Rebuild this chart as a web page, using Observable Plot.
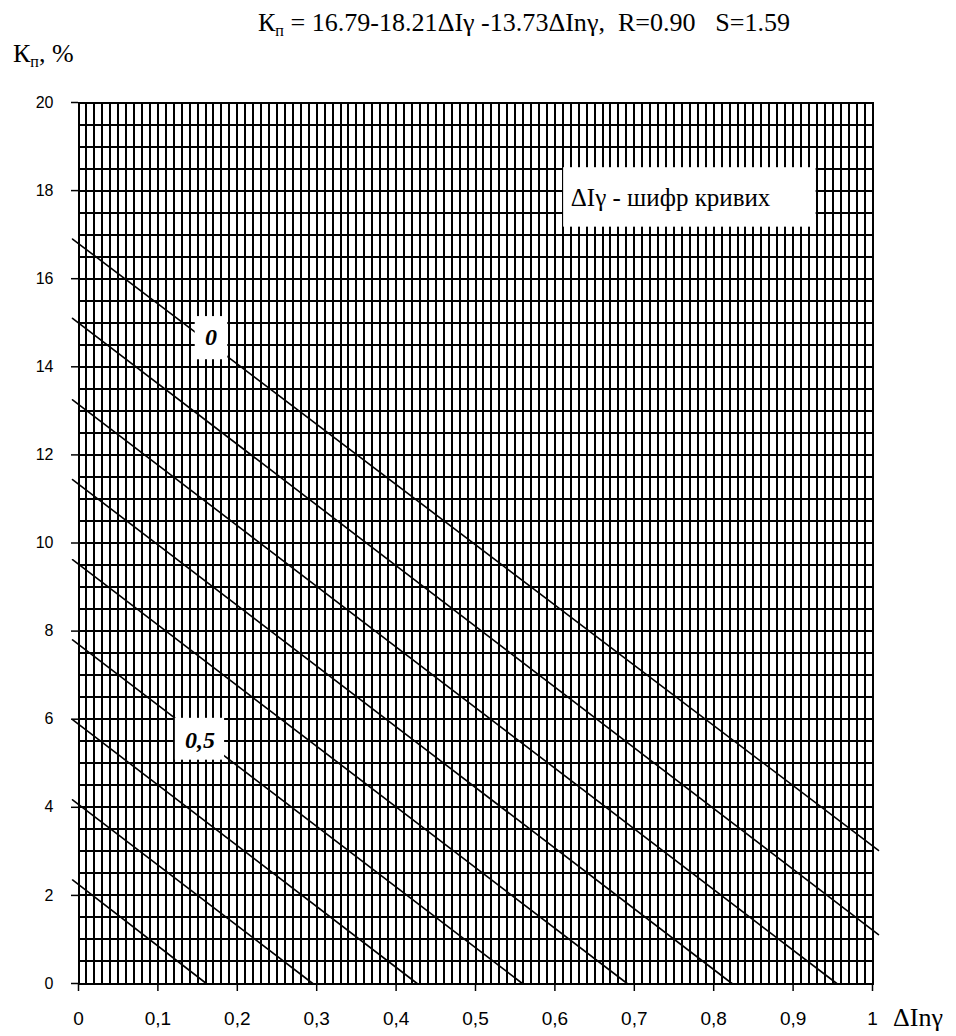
<!DOCTYPE html>
<html><head><meta charset="utf-8">
<script src="https://cdn.jsdelivr.net/npm/d3@7"></script>
<script src="https://cdn.jsdelivr.net/npm/@observablehq/plot@0.6"></script>
<style>
body{margin:0;background:#fff}
#wrap{position:relative;width:956px;height:1036px;overflow:hidden}
#wrap svg{position:absolute;left:0;top:0}
</style></head><body><div id="wrap"></div>
<script>
// Curve codes (ΔIγ) and the read end points of each straight line
const curveCodes = ["0","0,1","0,2","0,3","0,4","0,5","0,6","0,7","0,8"];
const lineStartX = [-0.0075,-0.0075,-0.0075,-0.0075,-0.0075,-0.0075,-0.0075,-0.0075,-0.0075];
const lineStartK = [16.9,15.1,13.25,11.44,9.62,7.8,5.99,4.17,2.35];
const lineEndX   = [1.0075,1.0075,0.955,0.823,0.691,0.559,0.4265,0.295,0.161];
const lineEndK   = [3.02,1.11,0,0,0,0,0,0,0];

// Axis ticks
const xTicks = [0,0.1,0.2,0.3,0.4,0.5,0.6,0.7,0.8,0.9,1];
const xTickLabels = ["0","0,1","0,2","0,3","0,4","0,5","0,6","0,7","0,8","0,9","1"];
const yTicks = [0,2,4,6,8,10,12,14,16,18,20];

// Curve labels (with white boxes)
const labelText = ["0","0,5"];
const labelX = [0.167,0.153];
const labelK = [14.66,5.52];
const labelBoxX1 = [0.147,0.122];
const labelBoxX2 = [0.188,0.184];
const labelBoxK1 = [14.16,5.07];
const labelBoxK2 = [15.14,6.02];

// Legend note
const legendText = "ΔIγ - шифр кривих";
const legendBox = {x1:0.611, x2:0.929, y1:17.17, y2:18.52};
const legendPos = {x:0.62, y:17.84};

const gridX = d3.range(0,101).map(i => i/100);
const gridY = d3.range(0,41).map(i => i/2);

const rows = [];
curveCodes.forEach((c,i) => {
  rows.push({code:c, x:lineStartX[i], k:lineStartK[i]});
  rows.push({code:c, x:lineEndX[i], k:lineEndK[i]});
});
const labels = labelText.map((t,i) => ({t, x:labelX[i], k:labelK[i],
  x1:labelBoxX1[i], x2:labelBoxX2[i], k1:labelBoxK1[i], k2:labelBoxK2[i]}));

const serif = "'Liberation Serif', 'Times New Roman', 'DejaVu Serif', serif";
const sans = "'Liberation Sans', Arial, sans-serif";
const chart = Plot.plot({
  width:956, height:1036,
  marginTop:102, marginBottom:53, marginLeft:78, marginRight:84,
  x:{domain:[0,1]}, y:{domain:[0,20]},
  style:{background:"white", color:"black"},
  marks:[
    Plot.ruleX(gridX, {stroke:"black", strokeWidth:2, shapeRendering:"crispEdges"}),
    Plot.ruleY(gridY, {stroke:"black", strokeWidth:2, shapeRendering:"crispEdges"}),
    Plot.line(rows, {x:"x", y:"k", z:"code", stroke:"black", strokeWidth:1.6}),
    Plot.rect(labels, {x1:"x1", x2:"x2", y1:"k1", y2:"k2", fill:"white"}),
    Plot.rect([legendBox], {x1:"x1", x2:"x2", y1:"y1", y2:"y2", fill:"white"}),
    Plot.text(labels, {x:"x", y:"k", text:"t", fontSize:24, fontWeight:"bold", fontStyle:"italic",
      fill:"black", className:"lbl-serif"}),
    Plot.text([legendPos], {x:"x", y:"y", text:() => legendText, textAnchor:"start", fontSize:25,
      fill:"black", className:"lbl-serif"}),
    Plot.frame({stroke:"black", strokeWidth:2, shapeRendering:"crispEdges"}),
    Plot.axisX({ticks:xTicks, tickFormat:d => xTickLabels[xTicks.indexOf(d)], tickSize:8, tickPadding:20, strokeWidth:1.5, label:null}),
    Plot.axisY({ticks:yTicks, tickSize:7, tickPadding:18, strokeWidth:1.5, label:null})
  ]
});
const wrap = document.getElementById("wrap");
wrap.appendChild(chart);
const sel = d3.select(chart);
sel.selectAll('g[aria-label="x-axis tick label"] text')
  .style("font-size","19px").style("font-family",sans);
sel.selectAll('g[aria-label="y-axis tick label"] text')
  .style("font-size","16px").style("font-family",sans);
sel.selectAll('g[aria-label="text"] text').style("font-family",serif);

// Title and axis names
const over = d3.select(wrap).append("svg").attr("width",956).attr("height",1036)
  .style("pointer-events","none");
const t = over.append("text").style("font-family",serif).style("font-size","26px")
  .attr("x",258).attr("y",31)
  .attr("textLength",532).attr("lengthAdjust","spacingAndGlyphs").style("white-space","pre");
t.append("tspan").text("К");
t.append("tspan").style("font-size","16px").attr("dy",5).text("п");
t.append("tspan").attr("dy",-5).text(" = 16.79-18.21ΔIγ -13.73ΔInγ,  R=0.90   S=1.59");
const yl = over.append("text").style("font-family",serif).style("font-size","26px")
  .attr("x",13).attr("y",62);
yl.append("tspan").text("К");
yl.append("tspan").style("font-size","16px").attr("dy",5).text("п");
yl.append("tspan").attr("dy",-5).text(", %");
over.append("text").style("font-family",serif).style("font-size","26px")
  .attr("x",893).attr("y",1026).text("ΔInγ");
</script></body></html>
